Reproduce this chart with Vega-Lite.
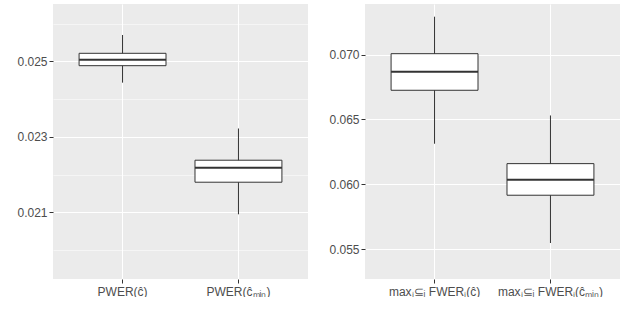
{
  "$schema": "https://vega.github.io/schema/vega-lite/v6.json",
  "padding": {"left": 5, "top": 4, "right": 3, "bottom": 0},
  "spacing": 9,
  "background": "white",
  "config": {
    "font": "Liberation Sans",
    "view": {"fill": "#EBEBEB", "stroke": null},
    "axis": {"domain": false, "labelColor": "#4D4D4D", "labelFontSize": 12, "tickColor": "#333333", "tickSize": 4, "tickWidth": 1, "gridColor": "#FFFFFF", "title": null}
  },
  "datasets": {
    "left": [
      {"group": "PWER(ĉ)", "lo": 0.024434, "q1": 0.024884, "med": 0.025042, "q3": 0.025212, "hi": 0.025697},
      {"group": "PWER(ĉₘᵢₙ)", "lo": 0.020947, "q1": 0.021797, "med": 0.022179, "q3": 0.02238, "hi": 0.02322}
    ],
    "right": [
      {"group": "maxⱼ⊆ᵢ FWERⱼ(ĉ)", "lo": 0.063125, "q1": 0.067253, "med": 0.068688, "q3": 0.070077, "hi": 0.072932},
      {"group": "maxⱼ⊆ᵢ FWERⱼ(ĉₘᵢₙ)", "lo": 0.055463, "q1": 0.059151, "med": 0.060355, "q3": 0.06159, "hi": 0.065309}
    ]
  },
  "hconcat": [
    {
      "width": 255,
      "height": 275,
      "data": {"name": "left"},
      "encoding": {
        "x": {"field": "group", "type": "nominal", "sort": null,
          "scale": {"paddingInner": 0.25, "paddingOuter": 0.225},
          "axis": {"labelAngle": 0, "grid": true, "gridWidth": 1, "bandPosition": 0.5, "labelPadding": 3}}
      },
      "layer": [
        {
          "mark": {"type": "rule", "color": "#333333", "strokeWidth": 1},
          "encoding": {
            "y": {"field": "lo", "type": "quantitative",
              "scale": {"domain": [0.019233, 0.026518], "nice": false, "zero": false},
              "axis": {"values": [0.020, 0.021, 0.022, 0.023, 0.024, 0.025, 0.026],
                "labelExpr": "round(datum.value*1000)%2==1 ? format(datum.value, '.3f') : ''",
                "tickOpacity": {"condition": {"test": "round(datum.value*1000)%2==1", "value": 1}, "value": 0},
                "gridWidth": {"condition": {"test": "round(datum.value*1000)%2==1", "value": 1}, "value": 0.5},
                "labelPadding": 2, "minExtent": 48, "maxExtent": 48}},
            "y2": {"field": "hi"}
          }
        },
        {
          "mark": {"type": "bar", "fill": "#FFFFFF", "stroke": "#333333", "strokeWidth": 1},
          "encoding": {
            "y": {"field": "q1", "type": "quantitative"},
            "y2": {"field": "q3"}
          }
        },
        {
          "mark": {"type": "tick", "color": "#333333", "thickness": 2, "opacity": 1},
          "encoding": {
            "y": {"field": "med", "type": "quantitative"}
          }
        }
      ]
    },
    {
      "width": 255,
      "height": 275,
      "data": {"name": "right"},
      "encoding": {
        "x": {"field": "group", "type": "nominal", "sort": null,
          "scale": {"paddingInner": 0.25, "paddingOuter": 0.225},
          "axis": {"labelAngle": 0, "grid": true, "gridWidth": 1, "bandPosition": 0.5, "labelPadding": 3}}
      },
      "layer": [
        {
          "mark": {"type": "rule", "color": "#333333", "strokeWidth": 1},
          "encoding": {
            "y": {"field": "lo", "type": "quantitative",
              "scale": {"domain": [0.052685, 0.073912], "nice": false, "zero": false},
              "axis": {"values": [0.0525, 0.055, 0.0575, 0.06, 0.0625, 0.065, 0.0675, 0.07, 0.0725],
                "labelExpr": "round(datum.value*2000)%10==0 ? format(datum.value, '.3f') : ''",
                "tickOpacity": {"condition": {"test": "round(datum.value*2000)%10==0", "value": 1}, "value": 0},
                "gridWidth": {"condition": {"test": "round(datum.value*2000)%10==0", "value": 1}, "value": 0.5},
                "labelPadding": 2, "minExtent": 48, "maxExtent": 48}},
            "y2": {"field": "hi"}
          }
        },
        {
          "mark": {"type": "bar", "fill": "#FFFFFF", "stroke": "#333333", "strokeWidth": 1},
          "encoding": {
            "y": {"field": "q1", "type": "quantitative"},
            "y2": {"field": "q3"}
          }
        },
        {
          "mark": {"type": "tick", "color": "#333333", "thickness": 2, "opacity": 1},
          "encoding": {
            "y": {"field": "med", "type": "quantitative"}
          }
        }
      ]
    }
  ]
}
